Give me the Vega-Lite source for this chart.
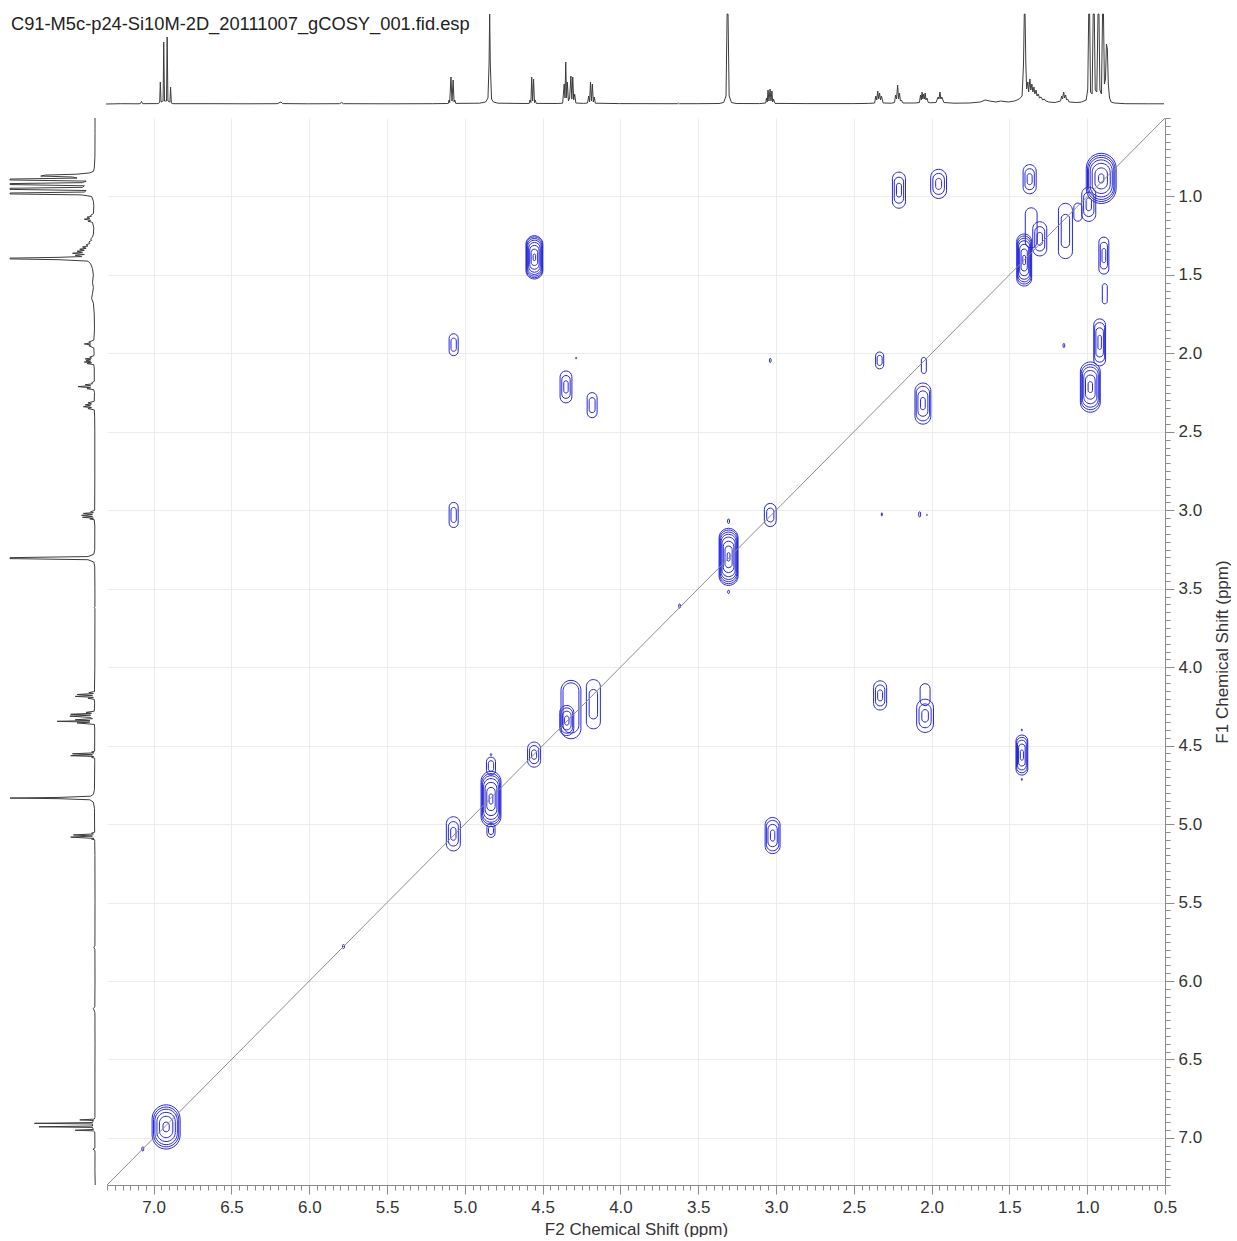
{
  "$schema": "https://vega.github.io/schema/vega-lite/v6.json",
  "autosize": {"type": "pad"},
  "padding": {"left": 8, "top": 12, "right": 0, "bottom": 0},
  "background": "white",
  "title": {
    "text": "C91-M5c-p24-Si10M-2D_20111007_gCOSY_001.fid.esp",
    "anchor": "start",
    "frame": "group",
    "orient": "top",
    "offset": -36,
    "baseline": "alphabetic",
    "dx": 1,
    "font": "Liberation Sans",
    "fontSize": 18.3,
    "fontWeight": "normal",
    "color": "#222222"
  },
  "config": {
    "font": "Liberation Sans",
    "view": {"stroke": null}
  },
  "datasets": {
    "spectrum": [
      {"ppm": 7.30, "intensity": 0}, {"ppm": 7.20, "intensity": 0.3}, {"ppm": 7.10, "intensity": 0.2},
      {"ppm": 7.08, "intensity": 0.3}, {"ppm": 7.072, "intensity": 2.5}, {"ppm": 7.064, "intensity": 0.3},
      {"ppm": 6.975, "intensity": 0.4}, {"ppm": 6.962, "intensity": 0.5}, {"ppm": 6.955, "intensity": 2},
      {"ppm": 6.951, "intensity": 22}, {"ppm": 6.946, "intensity": 2}, {"ppm": 6.933, "intensity": 3},
      {"ppm": 6.929, "intensity": 62}, {"ppm": 6.924, "intensity": 3}, {"ppm": 6.911, "intensity": 3},
      {"ppm": 6.907, "intensity": 67}, {"ppm": 6.902, "intensity": 3}, {"ppm": 6.889, "intensity": 2},
      {"ppm": 6.885, "intensity": 17}, {"ppm": 6.880, "intensity": 1}, {"ppm": 6.87, "intensity": 0.3},
      {"ppm": 6.60, "intensity": 0.3}, {"ppm": 6.40, "intensity": 0.2}, {"ppm": 6.20, "intensity": 0.3},
      {"ppm": 6.175, "intensity": 2}, {"ppm": 6.165, "intensity": 0.4}, {"ppm": 6.00, "intensity": 0.2},
      {"ppm": 5.80, "intensity": 0.3}, {"ppm": 5.785, "intensity": 1.5}, {"ppm": 5.775, "intensity": 0.3},
      {"ppm": 5.50, "intensity": 0.2}, {"ppm": 5.20, "intensity": 0.3}, {"ppm": 5.11, "intensity": 0.5},
      {"ppm": 5.10, "intensity": 0.6}, {"ppm": 5.095, "intensity": 4}, {"ppm": 5.091, "intensity": 1.5},
      {"ppm": 5.083, "intensity": 27}, {"ppm": 5.076, "intensity": 3}, {"ppm": 5.069, "intensity": 24},
      {"ppm": 5.063, "intensity": 2}, {"ppm": 5.058, "intensity": 4}, {"ppm": 5.052, "intensity": 0.6},
      {"ppm": 4.90, "intensity": 0.8}, {"ppm": 4.86, "intensity": 2}, {"ppm": 4.845, "intensity": 6},
      {"ppm": 4.838, "intensity": 40}, {"ppm": 4.834, "intensity": 100}, {"ppm": 4.830, "intensity": 40},
      {"ppm": 4.822, "intensity": 5}, {"ppm": 4.81, "intensity": 2}, {"ppm": 4.78, "intensity": 0.8},
      {"ppm": 4.60, "intensity": 0.5}, {"ppm": 4.58, "intensity": 0.6}, {"ppm": 4.575, "intensity": 4},
      {"ppm": 4.569, "intensity": 1.5}, {"ppm": 4.564, "intensity": 27}, {"ppm": 4.558, "intensity": 3},
      {"ppm": 4.552, "intensity": 25}, {"ppm": 4.546, "intensity": 1.5}, {"ppm": 4.541, "intensity": 4},
      {"ppm": 4.535, "intensity": 0.6}, {"ppm": 4.40, "intensity": 0.5}, {"ppm": 4.365, "intensity": 0.8},
      {"ppm": 4.355, "intensity": 20}, {"ppm": 4.350, "intensity": 6}, {"ppm": 4.345, "intensity": 42},
      {"ppm": 4.340, "intensity": 6}, {"ppm": 4.335, "intensity": 22}, {"ppm": 4.328, "intensity": 3},
      {"ppm": 4.320, "intensity": 6}, {"ppm": 4.312, "intensity": 28}, {"ppm": 4.306, "intensity": 5},
      {"ppm": 4.300, "intensity": 27}, {"ppm": 4.294, "intensity": 4}, {"ppm": 4.288, "intensity": 10},
      {"ppm": 4.280, "intensity": 1}, {"ppm": 4.23, "intensity": 0.6}, {"ppm": 4.205, "intensity": 1},
      {"ppm": 4.198, "intensity": 8}, {"ppm": 4.192, "intensity": 2}, {"ppm": 4.186, "intensity": 22},
      {"ppm": 4.180, "intensity": 3}, {"ppm": 4.174, "intensity": 20}, {"ppm": 4.168, "intensity": 2},
      {"ppm": 4.162, "intensity": 7}, {"ppm": 4.155, "intensity": 0.8}, {"ppm": 4.00, "intensity": 0.4},
      {"ppm": 3.70, "intensity": 0.3}, {"ppm": 3.625, "intensity": 0.3}, {"ppm": 3.62, "intensity": 1},
      {"ppm": 3.615, "intensity": 0.3}, {"ppm": 3.50, "intensity": 0.3}, {"ppm": 3.36, "intensity": 0.5},
      {"ppm": 3.33, "intensity": 1.5}, {"ppm": 3.315, "intensity": 8}, {"ppm": 3.308, "intensity": 100},
      {"ppm": 3.302, "intensity": 100}, {"ppm": 3.295, "intensity": 8}, {"ppm": 3.28, "intensity": 1.5},
      {"ppm": 3.25, "intensity": 0.5}, {"ppm": 3.10, "intensity": 0.4}, {"ppm": 3.06, "intensity": 1},
      {"ppm": 3.055, "intensity": 6}, {"ppm": 3.050, "intensity": 2}, {"ppm": 3.045, "intensity": 14},
      {"ppm": 3.039, "intensity": 3}, {"ppm": 3.032, "intensity": 15}, {"ppm": 3.026, "intensity": 3},
      {"ppm": 3.020, "intensity": 13}, {"ppm": 3.015, "intensity": 2}, {"ppm": 3.010, "intensity": 5},
      {"ppm": 3.00, "intensity": 0.6}, {"ppm": 2.80, "intensity": 0.4}, {"ppm": 2.50, "intensity": 0.4},
      {"ppm": 2.40, "intensity": 0.6}, {"ppm": 2.36, "intensity": 1}, {"ppm": 2.352, "intensity": 8},
      {"ppm": 2.346, "intensity": 4}, {"ppm": 2.340, "intensity": 13}, {"ppm": 2.334, "intensity": 5},
      {"ppm": 2.328, "intensity": 11}, {"ppm": 2.322, "intensity": 4}, {"ppm": 2.316, "intensity": 8},
      {"ppm": 2.305, "intensity": 1}, {"ppm": 2.25, "intensity": 0.8}, {"ppm": 2.232, "intensity": 1.5},
      {"ppm": 2.225, "intensity": 9}, {"ppm": 2.219, "intensity": 5}, {"ppm": 2.212, "intensity": 19},
      {"ppm": 2.206, "intensity": 5}, {"ppm": 2.200, "intensity": 11}, {"ppm": 2.194, "intensity": 3},
      {"ppm": 2.188, "intensity": 4}, {"ppm": 2.178, "intensity": 1}, {"ppm": 2.10, "intensity": 1},
      {"ppm": 2.072, "intensity": 1.5}, {"ppm": 2.065, "intensity": 9}, {"ppm": 2.060, "intensity": 4},
      {"ppm": 2.055, "intensity": 12}, {"ppm": 2.050, "intensity": 5}, {"ppm": 2.045, "intensity": 10},
      {"ppm": 2.040, "intensity": 5}, {"ppm": 2.035, "intensity": 11}, {"ppm": 2.030, "intensity": 4},
      {"ppm": 2.024, "intensity": 6}, {"ppm": 2.015, "intensity": 1.5}, {"ppm": 2.00, "intensity": 1.2},
      {"ppm": 1.965, "intensity": 1.5}, {"ppm": 1.952, "intensity": 7}, {"ppm": 1.946, "intensity": 5},
      {"ppm": 1.940, "intensity": 12}, {"ppm": 1.934, "intensity": 5}, {"ppm": 1.928, "intensity": 7},
      {"ppm": 1.915, "intensity": 1.5}, {"ppm": 1.85, "intensity": 0.8}, {"ppm": 1.75, "intensity": 1},
      {"ppm": 1.68, "intensity": 2}, {"ppm": 1.65, "intensity": 4}, {"ppm": 1.62, "intensity": 3},
      {"ppm": 1.58, "intensity": 2}, {"ppm": 1.55, "intensity": 3}, {"ppm": 1.50, "intensity": 2},
      {"ppm": 1.46, "intensity": 3}, {"ppm": 1.43, "intensity": 5}, {"ppm": 1.412, "intensity": 8},
      {"ppm": 1.403, "intensity": 40}, {"ppm": 1.398, "intensity": 100}, {"ppm": 1.393, "intensity": 100},
      {"ppm": 1.388, "intensity": 40}, {"ppm": 1.383, "intensity": 15}, {"ppm": 1.375, "intensity": 22},
      {"ppm": 1.370, "intensity": 12}, {"ppm": 1.362, "intensity": 25}, {"ppm": 1.356, "intensity": 14},
      {"ppm": 1.349, "intensity": 20}, {"ppm": 1.343, "intensity": 12}, {"ppm": 1.336, "intensity": 17},
      {"ppm": 1.330, "intensity": 10}, {"ppm": 1.322, "intensity": 14}, {"ppm": 1.316, "intensity": 8},
      {"ppm": 1.308, "intensity": 10}, {"ppm": 1.300, "intensity": 6}, {"ppm": 1.29, "intensity": 7},
      {"ppm": 1.28, "intensity": 4}, {"ppm": 1.27, "intensity": 5}, {"ppm": 1.26, "intensity": 3},
      {"ppm": 1.24, "intensity": 2}, {"ppm": 1.20, "intensity": 1.5}, {"ppm": 1.165, "intensity": 3},
      {"ppm": 1.158, "intensity": 8}, {"ppm": 1.152, "intensity": 5}, {"ppm": 1.145, "intensity": 12},
      {"ppm": 1.139, "intensity": 6}, {"ppm": 1.132, "intensity": 9}, {"ppm": 1.126, "intensity": 4},
      {"ppm": 1.120, "intensity": 5}, {"ppm": 1.11, "intensity": 2}, {"ppm": 1.06, "intensity": 1.5},
      {"ppm": 1.03, "intensity": 2}, {"ppm": 1.00, "intensity": 4}, {"ppm": 0.99, "intensity": 15},
      {"ppm": 0.984, "intensity": 100}, {"ppm": 0.978, "intensity": 100}, {"ppm": 0.972, "intensity": 12},
      {"ppm": 0.962, "intensity": 10}, {"ppm": 0.955, "intensity": 100}, {"ppm": 0.948, "intensity": 100},
      {"ppm": 0.942, "intensity": 14}, {"ppm": 0.932, "intensity": 12}, {"ppm": 0.924, "intensity": 100},
      {"ppm": 0.918, "intensity": 100}, {"ppm": 0.912, "intensity": 14}, {"ppm": 0.902, "intensity": 10},
      {"ppm": 0.895, "intensity": 100}, {"ppm": 0.889, "intensity": 100}, {"ppm": 0.883, "intensity": 20},
      {"ppm": 0.876, "intensity": 25}, {"ppm": 0.870, "intensity": 60}, {"ppm": 0.864, "intensity": 55},
      {"ppm": 0.858, "intensity": 20}, {"ppm": 0.850, "intensity": 6}, {"ppm": 0.84, "intensity": 2},
      {"ppm": 0.82, "intensity": 1}, {"ppm": 0.75, "intensity": 0.3}, {"ppm": 0.60, "intensity": 0.2},
      {"ppm": 0.50, "intensity": 0.2}
    ],
    "contours": [
      {"f2_min": 2.168, "f2_max": 2.252, "f1_min": 0.845, "f1_max": 1.075},
      {"f2_min": 2.180, "f2_max": 2.240, "f1_min": 0.877, "f1_max": 1.043},
      {"f2_min": 2.194, "f2_max": 2.226, "f1_min": 0.916, "f1_max": 1.004},
      {"f2_min": 1.904, "f2_max": 2.006, "f1_min": 0.827, "f1_max": 1.013},
      {"f2_min": 1.918, "f2_max": 1.992, "f1_min": 0.853, "f1_max": 0.987},
      {"f2_min": 1.936, "f2_max": 1.974, "f1_min": 0.885, "f1_max": 0.955},
      {"f2_min": 1.328, "f2_max": 1.412, "f1_min": 0.797, "f1_max": 0.983},
      {"f2_min": 1.340, "f2_max": 1.400, "f1_min": 0.823, "f1_max": 0.957},
      {"f2_min": 1.354, "f2_max": 1.386, "f1_min": 0.855, "f1_max": 0.925},
      {"f2_min": 0.814, "f2_max": 1.006, "f1_min": 0.725, "f1_max": 1.045},
      {"f2_min": 0.822, "f2_max": 0.998, "f1_min": 0.738, "f1_max": 1.032},
      {"f2_min": 0.829, "f2_max": 0.991, "f1_min": 0.751, "f1_max": 1.019},
      {"f2_min": 0.839, "f2_max": 0.981, "f1_min": 0.767, "f1_max": 1.003},
      {"f2_min": 0.852, "f2_max": 0.968, "f1_min": 0.789, "f1_max": 0.981},
      {"f2_min": 0.870, "f2_max": 0.950, "f1_min": 0.818, "f1_max": 0.952},
      {"f2_min": 0.893, "f2_max": 0.927, "f1_min": 0.856, "f1_max": 0.914},
      {"f2_min": 0.945, "f2_max": 1.035, "f1_min": 0.941, "f1_max": 1.159},
      {"f2_min": 0.957, "f2_max": 1.023, "f1_min": 0.972, "f1_max": 1.128},
      {"f2_min": 0.973, "f2_max": 1.007, "f1_min": 1.009, "f1_max": 1.091},
      {"f2_min": 1.095, "f2_max": 1.185, "f1_min": 1.044, "f1_max": 1.396},
      {"f2_min": 1.113, "f2_max": 1.167, "f1_min": 1.114, "f1_max": 1.326},
      {"f2_min": 1.034, "f2_max": 1.086, "f1_min": 1.042, "f1_max": 1.158},
      {"f2_min": 1.322, "f2_max": 1.398, "f1_min": 1.072, "f1_max": 1.328},
      {"f2_min": 1.260, "f2_max": 1.350, "f1_min": 1.161, "f1_max": 1.379},
      {"f2_min": 1.273, "f2_max": 1.337, "f1_min": 1.192, "f1_max": 1.348},
      {"f2_min": 1.288, "f2_max": 1.322, "f1_min": 1.229, "f1_max": 1.311},
      {"f2_min": 1.357, "f2_max": 1.453, "f1_min": 1.239, "f1_max": 1.571},
      {"f2_min": 1.361, "f2_max": 1.449, "f1_min": 1.252, "f1_max": 1.558},
      {"f2_min": 1.365, "f2_max": 1.445, "f1_min": 1.266, "f1_max": 1.544},
      {"f2_min": 1.369, "f2_max": 1.441, "f1_min": 1.282, "f1_max": 1.528},
      {"f2_min": 1.376, "f2_max": 1.434, "f1_min": 1.305, "f1_max": 1.505},
      {"f2_min": 1.385, "f2_max": 1.425, "f1_min": 1.335, "f1_max": 1.475},
      {"f2_min": 1.396, "f2_max": 1.414, "f1_min": 1.375, "f1_max": 1.435},
      {"f2_min": 0.861, "f2_max": 0.925, "f1_min": 1.259, "f1_max": 1.495},
      {"f2_min": 0.870, "f2_max": 0.916, "f1_min": 1.292, "f1_max": 1.462},
      {"f2_min": 0.881, "f2_max": 0.905, "f1_min": 1.332, "f1_max": 1.422},
      {"f2_min": 0.871, "f2_max": 0.903, "f1_min": 1.556, "f1_max": 1.684},
      {"f2_min": 0.882, "f2_max": 0.958, "f1_min": 1.780, "f1_max": 2.080},
      {"f2_min": 0.888, "f2_max": 0.952, "f1_min": 1.804, "f1_max": 2.056},
      {"f2_min": 0.896, "f2_max": 0.944, "f1_min": 1.837, "f1_max": 2.023},
      {"f2_min": 0.909, "f2_max": 0.931, "f1_min": 1.885, "f1_max": 1.975},
      {"f2_min": 0.916, "f2_max": 1.044, "f1_min": 2.055, "f1_max": 2.375},
      {"f2_min": 0.922, "f2_max": 1.038, "f1_min": 2.071, "f1_max": 2.359},
      {"f2_min": 0.929, "f2_max": 1.031, "f1_min": 2.087, "f1_max": 2.343},
      {"f2_min": 0.938, "f2_max": 1.022, "f1_min": 2.109, "f1_max": 2.321},
      {"f2_min": 0.949, "f2_max": 1.011, "f1_min": 2.138, "f1_max": 2.292},
      {"f2_min": 0.966, "f2_max": 0.994, "f1_min": 2.180, "f1_max": 2.250},
      {"f2_min": 1.145, "f2_max": 1.155, "f1_min": 1.937, "f1_max": 1.963},
      {"f2_min": 2.308, "f2_max": 2.360, "f1_min": 1.991, "f1_max": 2.099},
      {"f2_min": 2.318, "f2_max": 2.350, "f1_min": 2.013, "f1_max": 2.077},
      {"f2_min": 2.034, "f2_max": 2.066, "f1_min": 2.026, "f1_max": 2.128},
      {"f2_min": 2.005, "f2_max": 2.107, "f1_min": 2.189, "f1_max": 2.451},
      {"f2_min": 2.013, "f2_max": 2.099, "f1_min": 2.210, "f1_max": 2.430},
      {"f2_min": 2.024, "f2_max": 2.088, "f1_min": 2.239, "f1_max": 2.401},
      {"f2_min": 2.041, "f2_max": 2.071, "f1_min": 2.281, "f1_max": 2.359},
      {"f2_min": 4.499, "f2_max": 4.607, "f1_min": 1.250, "f1_max": 1.526},
      {"f2_min": 4.502, "f2_max": 4.604, "f1_min": 1.258, "f1_max": 1.518},
      {"f2_min": 4.506, "f2_max": 4.600, "f1_min": 1.268, "f1_max": 1.508},
      {"f2_min": 4.510, "f2_max": 4.596, "f1_min": 1.279, "f1_max": 1.497},
      {"f2_min": 4.516, "f2_max": 4.590, "f1_min": 1.293, "f1_max": 1.483},
      {"f2_min": 4.523, "f2_max": 4.583, "f1_min": 1.312, "f1_max": 1.464},
      {"f2_min": 4.532, "f2_max": 4.574, "f1_min": 1.336, "f1_max": 1.440},
      {"f2_min": 4.545, "f2_max": 4.561, "f1_min": 1.367, "f1_max": 1.409},
      {"f2_min": 5.043, "f2_max": 5.101, "f1_min": 1.875, "f1_max": 2.015},
      {"f2_min": 5.055, "f2_max": 5.089, "f1_min": 1.903, "f1_max": 1.987},
      {"f2_min": 4.282, "f2_max": 4.288, "f1_min": 2.025, "f1_max": 2.035},
      {"f2_min": 4.312, "f2_max": 4.388, "f1_min": 2.112, "f1_max": 2.316},
      {"f2_min": 4.323, "f2_max": 4.377, "f1_min": 2.141, "f1_max": 2.287},
      {"f2_min": 4.336, "f2_max": 4.364, "f1_min": 2.175, "f1_max": 2.253},
      {"f2_min": 4.150, "f2_max": 4.214, "f1_min": 2.250, "f1_max": 2.410},
      {"f2_min": 4.163, "f2_max": 4.201, "f1_min": 2.282, "f1_max": 2.378},
      {"f2_min": 3.032, "f2_max": 3.042, "f1_min": 2.032, "f1_max": 2.058},
      {"f2_min": 5.043, "f2_max": 5.101, "f1_min": 2.950, "f1_max": 3.110},
      {"f2_min": 5.055, "f2_max": 5.089, "f1_min": 2.982, "f1_max": 3.078},
      {"f2_min": 2.999, "f2_max": 3.075, "f1_min": 2.956, "f1_max": 3.104},
      {"f2_min": 3.014, "f2_max": 3.060, "f1_min": 2.986, "f1_max": 3.074},
      {"f2_min": 3.244, "f2_max": 3.366, "f1_min": 3.115, "f1_max": 3.479},
      {"f2_min": 3.248, "f2_max": 3.362, "f1_min": 3.126, "f1_max": 3.468},
      {"f2_min": 3.252, "f2_max": 3.358, "f1_min": 3.139, "f1_max": 3.455},
      {"f2_min": 3.257, "f2_max": 3.353, "f1_min": 3.153, "f1_max": 3.441},
      {"f2_min": 3.263, "f2_max": 3.347, "f1_min": 3.171, "f1_max": 3.423},
      {"f2_min": 3.271, "f2_max": 3.339, "f1_min": 3.197, "f1_max": 3.397},
      {"f2_min": 3.282, "f2_max": 3.328, "f1_min": 3.228, "f1_max": 3.366},
      {"f2_min": 3.296, "f2_max": 3.314, "f1_min": 3.270, "f1_max": 3.324},
      {"f2_min": 3.299, "f2_max": 3.311, "f1_min": 3.056, "f1_max": 3.084},
      {"f2_min": 3.299, "f2_max": 3.311, "f1_min": 3.510, "f1_max": 3.530},
      {"f2_min": 3.615, "f2_max": 3.625, "f1_min": 3.597, "f1_max": 3.623},
      {"f2_min": 2.317, "f2_max": 2.323, "f1_min": 3.016, "f1_max": 3.036},
      {"f2_min": 2.071, "f2_max": 2.083, "f1_min": 3.010, "f1_max": 3.042},
      {"f2_min": 2.027, "f2_max": 2.033, "f1_min": 3.027, "f1_max": 3.033},
      {"f2_min": 2.289, "f2_max": 2.373, "f1_min": 4.087, "f1_max": 4.273},
      {"f2_min": 2.301, "f2_max": 2.361, "f1_min": 4.113, "f1_max": 4.247},
      {"f2_min": 2.315, "f2_max": 2.347, "f1_min": 4.145, "f1_max": 4.215},
      {"f2_min": 1.988, "f2_max": 2.096, "f1_min": 4.204, "f1_max": 4.416},
      {"f2_min": 2.003, "f2_max": 2.081, "f1_min": 4.234, "f1_max": 4.386},
      {"f2_min": 2.021, "f2_max": 2.063, "f1_min": 4.270, "f1_max": 4.350},
      {"f2_min": 2.010, "f2_max": 2.074, "f1_min": 4.105, "f1_max": 4.245},
      {"f2_min": 4.254, "f2_max": 4.382, "f1_min": 4.084, "f1_max": 4.456},
      {"f2_min": 4.267, "f2_max": 4.369, "f1_min": 4.100, "f1_max": 4.420},
      {"f2_min": 4.300, "f2_max": 4.390, "f1_min": 4.244, "f1_max": 4.436},
      {"f2_min": 4.307, "f2_max": 4.383, "f1_min": 4.259, "f1_max": 4.421},
      {"f2_min": 4.317, "f2_max": 4.373, "f1_min": 4.280, "f1_max": 4.400},
      {"f2_min": 4.331, "f2_max": 4.359, "f1_min": 4.311, "f1_max": 4.369},
      {"f2_min": 4.129, "f2_max": 4.219, "f1_min": 4.079, "f1_max": 4.393},
      {"f2_min": 4.147, "f2_max": 4.201, "f1_min": 4.142, "f1_max": 4.330},
      {"f2_min": 4.513, "f2_max": 4.597, "f1_min": 4.477, "f1_max": 4.637},
      {"f2_min": 4.525, "f2_max": 4.585, "f1_min": 4.499, "f1_max": 4.615},
      {"f2_min": 4.539, "f2_max": 4.571, "f1_min": 4.527, "f1_max": 4.587},
      {"f2_min": 4.768, "f2_max": 4.896, "f1_min": 4.664, "f1_max": 5.016},
      {"f2_min": 4.773, "f2_max": 4.891, "f1_min": 4.678, "f1_max": 5.002},
      {"f2_min": 4.778, "f2_max": 4.886, "f1_min": 4.692, "f1_max": 4.988},
      {"f2_min": 4.785, "f2_max": 4.879, "f1_min": 4.710, "f1_max": 4.970},
      {"f2_min": 4.794, "f2_max": 4.870, "f1_min": 4.734, "f1_max": 4.946},
      {"f2_min": 4.805, "f2_max": 4.859, "f1_min": 4.766, "f1_max": 4.914},
      {"f2_min": 4.820, "f2_max": 4.844, "f1_min": 4.808, "f1_max": 4.872},
      {"f2_min": 4.803, "f2_max": 4.861, "f1_min": 4.573, "f1_max": 4.687},
      {"f2_min": 4.815, "f2_max": 4.849, "f1_min": 4.596, "f1_max": 4.664},
      {"f2_min": 4.806, "f2_max": 4.858, "f1_min": 4.995, "f1_max": 5.085},
      {"f2_min": 4.816, "f2_max": 4.848, "f1_min": 5.013, "f1_max": 5.067},
      {"f2_min": 4.827, "f2_max": 4.837, "f1_min": 4.551, "f1_max": 4.563},
      {"f2_min": 5.029, "f2_max": 5.119, "f1_min": 4.953, "f1_max": 5.171},
      {"f2_min": 5.042, "f2_max": 5.106, "f1_min": 4.984, "f1_max": 5.140},
      {"f2_min": 5.057, "f2_max": 5.091, "f1_min": 5.021, "f1_max": 5.103},
      {"f2_min": 2.974, "f2_max": 3.070, "f1_min": 4.958, "f1_max": 5.188},
      {"f2_min": 2.982, "f2_max": 3.062, "f1_min": 4.976, "f1_max": 5.170},
      {"f2_min": 2.992, "f2_max": 3.052, "f1_min": 5.002, "f1_max": 5.144},
      {"f2_min": 3.008, "f2_max": 3.036, "f1_min": 5.038, "f1_max": 5.108},
      {"f2_min": 1.382, "f2_max": 1.458, "f1_min": 4.432, "f1_max": 4.688},
      {"f2_min": 1.386, "f2_max": 1.454, "f1_min": 4.447, "f1_max": 4.673},
      {"f2_min": 1.392, "f2_max": 1.448, "f1_min": 4.465, "f1_max": 4.655},
      {"f2_min": 1.399, "f2_max": 1.441, "f1_min": 4.490, "f1_max": 4.630},
      {"f2_min": 1.410, "f2_max": 1.430, "f1_min": 4.528, "f1_max": 4.592},
      {"f2_min": 1.417, "f2_max": 1.423, "f1_min": 4.394, "f1_max": 4.406},
      {"f2_min": 1.417, "f2_max": 1.423, "f1_min": 4.709, "f1_max": 4.721},
      {"f2_min": 5.774, "f2_max": 5.786, "f1_min": 5.767, "f1_max": 5.793},
      {"f2_min": 6.830, "f2_max": 7.010, "f1_min": 6.789, "f1_max": 7.071},
      {"f2_min": 6.839, "f2_max": 7.001, "f1_min": 6.803, "f1_max": 7.057},
      {"f2_min": 6.848, "f2_max": 6.992, "f1_min": 6.817, "f1_max": 7.043},
      {"f2_min": 6.861, "f2_max": 6.979, "f1_min": 6.837, "f1_max": 7.023},
      {"f2_min": 6.877, "f2_max": 6.963, "f1_min": 6.862, "f1_max": 6.998},
      {"f2_min": 6.900, "f2_max": 6.940, "f1_min": 6.899, "f1_max": 6.961},
      {"f2_min": 7.064, "f2_max": 7.076, "f1_min": 7.057, "f1_max": 7.083}
    ],
    "diagonal": [
      {"f2": 7.3, "f1": 7.3},
      {"f2": 0.5, "f1": 0.5}
    ]
  },
  "spacing": 8,
  "vconcat": [
    {
      "spacing": 7,
      "hconcat": [
        {
          "width": 87,
          "height": 94,
          "data": {"values": []},
          "mark": "point"
        },
        {
          "width": 1058,
          "height": 94,
          "data": {"name": "spectrum"},
          "mark": {"type": "line", "color": "#3c3c3c", "strokeWidth": 1},
          "encoding": {
            "x": {"field": "ppm", "type": "quantitative", "axis": null,
                  "scale": {"domain": [0.5, 7.3], "reverse": true, "nice": false, "zero": false}},
            "y": {"field": "intensity", "type": "quantitative", "axis": null,
                  "scale": {"domain": [-4, 90], "clamp": true, "nice": false, "zero": false}}
          }
        }
      ]
    },
    {
      "spacing": 7,
      "hconcat": [
        {
          "width": 87,
          "height": 1067,
          "data": {"name": "spectrum"},
          "mark": {"type": "line", "color": "#3c3c3c", "strokeWidth": 1},
          "encoding": {
            "y": {"field": "ppm", "type": "quantitative", "axis": null,
                  "scale": {"domain": [0.5, 7.3], "reverse": true, "nice": false, "zero": false}},
            "x": {"field": "intensity", "type": "quantitative", "axis": null,
                  "scale": {"domain": [-2, 94], "reverse": true, "clamp": true, "nice": false, "zero": false}},
            "order": {"field": "ppm", "type": "quantitative"}
          }
        },
        {
          "width": 1058,
          "height": 1067,
          "layer": [
            {
              "data": {"name": "contours"},
              "mark": {"type": "rect", "filled": false, "cornerRadius": 200, "stroke": "#2626d9", "strokeWidth": 1},
              "encoding": {
                "x": {"field": "f2_min", "type": "quantitative",
                      "scale": {"domain": [0.5, 7.3], "reverse": true, "nice": false, "zero": false},
                      "axis": {
                        "orient": "bottom", "title": "F2 Chemical Shift (ppm)",
                        "values": [0.5, 1.0, 1.5, 2.0, 2.5, 3.0, 3.5, 4.0, 4.5, 5.0, 5.5, 6.0, 6.5, 7.0],
                        "format": ".1f", "labelFontSize": 17, "labelColor": "#333333", "labelPadding": 5,
                        "labelOverlap": false, "labelFlush": false,
                        "tickSize": 9, "tickColor": "#8a8a8a", "domainColor": "#8a8a8a",
                        "grid": true, "gridColor": "#ececec",
                        "titleFontSize": 17, "titleFontWeight": "normal", "titleColor": "#333333", "titlePadding": 6
                      }},
                "x2": {"field": "f2_max"},
                "y": {"field": "f1_min", "type": "quantitative",
                      "scale": {"domain": [0.5, 7.3], "reverse": true, "nice": false, "zero": false},
                      "axis": {
                        "orient": "right", "title": "F1 Chemical Shift (ppm)",
                        "titleAngle": -90, "titleBaseline": "top",
                        "values": [1.0, 1.5, 2.0, 2.5, 3.0, 3.5, 4.0, 4.5, 5.0, 5.5, 6.0, 6.5, 7.0],
                        "format": ".1f", "labelFontSize": 17, "labelColor": "#333333", "labelPadding": 4,
                        "labelOverlap": false, "labelFlush": false,
                        "tickSize": 9, "tickColor": "#8a8a8a", "domainColor": "#8a8a8a",
                        "grid": true, "gridColor": "#ececec",
                        "titleFontSize": 17, "titleFontWeight": "normal", "titleColor": "#333333", "titlePadding": 13
                      }},
                "y2": {"field": "f1_max"}
              }
            },
            {
              "data": {"name": "diagonal"},
              "mark": {"type": "line", "color": "#8c8c8c", "strokeWidth": 1},
              "encoding": {
                "x": {"field": "f2", "type": "quantitative",
                      "scale": {"domain": [0.5, 7.3], "reverse": true, "nice": false, "zero": false},
                      "axis": {"orient": "bottom", "title": null, "labels": false, "domain": false, "grid": false,
                               "tickCount": 136, "tickSize": 5, "tickColor": "#8a8a8a"}},
                "y": {"field": "f1", "type": "quantitative",
                      "scale": {"domain": [0.5, 7.3], "reverse": true, "nice": false, "zero": false},
                      "axis": {"orient": "right", "title": null, "labels": false, "domain": false, "grid": false,
                               "tickCount": 136, "tickSize": 5, "tickColor": "#8a8a8a"}}
              }
            }
          ],
          "resolve": {"axis": {"x": "independent", "y": "independent"}}
        }
      ]
    }
  ]
}
